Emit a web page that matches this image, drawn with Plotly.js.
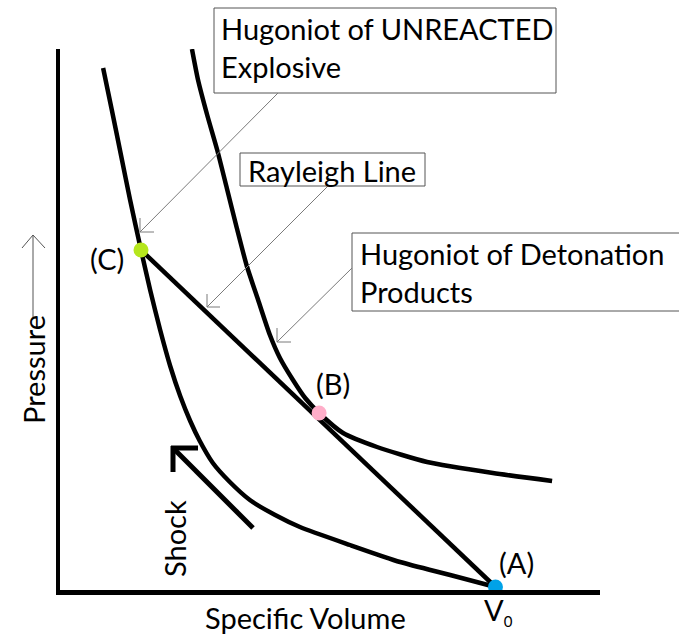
<!DOCTYPE html>
<html>
<head>
<meta charset="utf-8">
<script src="https://cdn.plot.ly/plotly-3.0.1.min.js"></script>
<style>html,body{margin:0;padding:0;background:#fff;}#chart{width:679px;height:634px;}</style>
</head>
<body>
<div id="chart"></div>
<script>
// Specific volume (V/V0-ish units) and pressure (arbitrary units)
const productsV = [0.099,0.119,0.140,0.161,0.186,0.207,0.230,0.253,0.276,0.299,0.321,0.351,0.390,0.436,0.494,0.551,0.666,0.781,0.896,1.000];
const productsP = [5.22,4.80,4.35,3.90,3.40,3.00,2.60,2.24,1.94,1.69,1.49,1.27,1.08,0.90,0.75,0.63,0.45,0.28,0.15,0.03];
const unreactedV = [0.303,0.317,0.338,0.361,0.383,0.406,0.429,0.455,0.482,0.505,0.535,0.563,0.595,0.650,0.728,0.843,0.994,1.130];
const unreactedP = [5.41,5.10,4.75,4.40,4.02,3.62,3.24,2.90,2.55,2.32,2.10,1.92,1.77,1.57,1.43,1.28,1.17,1.09];
const rayleighV = [0.186,1.000];
const rayleighP = [3.40,0.03];
const stateNames = ["(C)","(B)","(A)"];
const stateV = [0.186,0.595,1.000];
const stateP = [3.40,1.77,0.03];
const stateColors = ["#b5e61d","#ffaec9","#00a2e8"];

const FONT = "Lato, Carlito, Calibri, sans-serif";
// helper: reference pixel -> paper coords (plot area is 60..600 x 49..590)
const L = 60, R = 600, T = 49, B = 590;
const px = x => (x - L) / (R - L);
const py = y => (B - y) / (B - T);
function seg(x0,y0,x1,y1,color,w){
  return {type:'line',xref:'paper',yref:'paper',x0:px(x0),y0:py(y0),x1:px(x1),y1:py(y1),
          line:{color:color,width:w}};
}
function box(x0,y0,x1,y1){
  return {type:'rect',xref:'paper',yref:'paper',x0:px(x0),y0:py(y0),x1:px(x1),y1:py(y1),
          line:{color:"#555",width:1},fillcolor:"#fff",layer:'above'};
}
function callout(fromX,fromY,tipX,tipY,color,w,arm){
  return [seg(fromX,fromY,tipX,tipY,color,w), seg(tipX,tipY,tipX+arm,tipY,color,w), seg(tipX,tipY,tipX,tipY-arm,color,w)];
}
const gray = "#7a7a7a";
let shapes = [box(214,8,556,93), box(240,153,425,186), box(352,233,700,311)];
shapes = shapes.concat(callout(278,93,140,232,gray,1,14));
shapes = shapes.concat(callout(328,186,207,307,gray,1,13));
shapes = shapes.concat(callout(352,268,277,342,gray,1,14));
// pressure arrow
shapes.push(seg(33,317,33,235,"#555",1));
shapes.push(seg(33,235,22,248,"#555",1));
shapes.push(seg(33,235,45,248,"#555",1));
// shock arrow
shapes.push(seg(253,528,173,448,"#000",5));
shapes.push(seg(171,448,198,448,"#000",5));
shapes.push(seg(173,446,173,472,"#000",5));

const txt = (t,x,y,opts) => Object.assign({text:t,xref:'paper',yref:'paper',x:px(x),y:py(y),showarrow:false,
   xanchor:'center',yanchor:'middle',font:{family:FONT,size:29,color:"#000"}}, opts||{});

const annotations = [
  txt("Hugoniot of UNREACTED<br>Explosive",219,48,{xanchor:'left',align:'left'}),
  txt("Rayleigh Line",332,170),
  txt("Hugoniot of Detonation<br>Products",358,272,{xanchor:'left',align:'left'}),
  txt("Specific Volume",305,617),
  txt("V<sub><span style='font-size:15px'>0</span></sub>",498,611),
  txt("Pressure",33,370,{textangle:-90}),
  txt("Shock",174,539,{textangle:-90})
];
for (let i=0;i<stateNames.length;i++){
  const off = [[-34,-8],[14,30],[21,25]][i];
  annotations.push({text:stateNames[i],x:stateV[i],y:stateP[i],xref:'x',yref:'y',showarrow:false,
     xanchor:'center',yanchor:'middle',
     xshift:off[0],yshift:off[1],font:{family:FONT,size:29,color:"#000"}});
}

const lineStyle = {color:"#000",width:4.5};
const data = [
  {x:productsV,y:productsP,mode:'lines',line:Object.assign({shape:'spline',smoothing:0.6},lineStyle),hoverinfo:'skip',name:'Products'},
  {x:unreactedV,y:unreactedP,mode:'lines',line:Object.assign({shape:'spline',smoothing:0.6},lineStyle),hoverinfo:'skip',name:'Unreacted'},
  {x:rayleighV,y:rayleighP,mode:'lines',line:lineStyle,hoverinfo:'skip',name:'Rayleigh'},
  {x:stateV,y:stateP,mode:'markers',marker:{size:15,color:stateColors},hoverinfo:'skip',name:'States',cliponaxis:false}
];

const layout = {
  width:679,height:634,
  margin:{l:L,r:679-R,t:T,b:634-B,pad:0},
  paper_bgcolor:"#fff",plot_bgcolor:"#fff",
  showlegend:false,
  xaxis:{range:[0,1.24],showgrid:false,zeroline:false,showticklabels:false,ticks:'',
         showline:true,linecolor:"#000",linewidth:4.5,fixedrange:true},
  yaxis:{range:[0,5.41],showgrid:false,zeroline:false,showticklabels:false,ticks:'',
         showline:true,linecolor:"#000",linewidth:4.5,fixedrange:true},
  shapes:shapes,
  annotations:annotations
};
Plotly.newPlot('chart',data,layout,{displayModeBar:false,staticPlot:true});
</script>
</body>
</html>
